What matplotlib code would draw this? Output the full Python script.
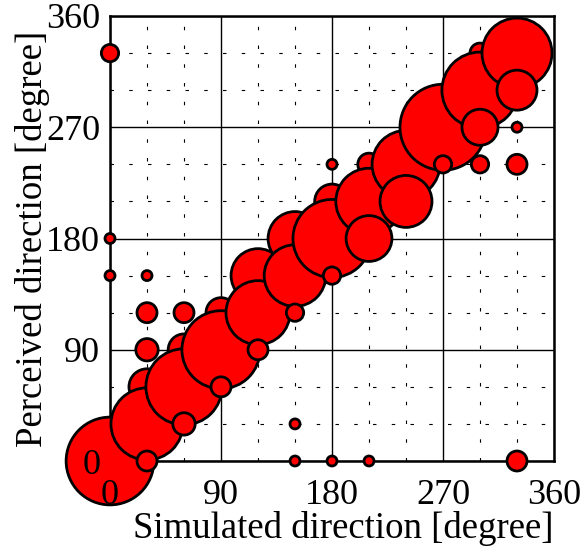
import matplotlib
matplotlib.use('Agg')
import matplotlib.pyplot as plt
import numpy as np

# Datos: dirección simulada, dirección percibida y número de respuestas
simulado = [0, 0, 0, 0,
            30, 30, 30, 30, 30, 30,
            60, 60, 60, 60,
            90, 90, 90,
            120, 120, 120,
            150, 150, 150, 150, 150,
            180, 180, 180, 180, 180,
            210, 210, 210, 210,
            240, 240,
            270, 270,
            300, 300, 300, 300,
            330, 330, 330, 330, 330]
percibido = [330, 180, 150, 0,
             150, 120, 90, 60, 30, 0,
             120, 90, 60, 30,
             120, 90, 60,
             150, 120, 90,
             180, 150, 120, 30, 0,
             240, 210, 180, 150, 0,
             240, 210, 180, 0,
             240, 210,
             270, 240,
             330, 300, 270, 240,
             330, 300, 270, 240, 0]
respuestas = [3, 1, 1, 77,
              1, 4, 5, 13, 52, 4,
              4, 10, 58, 5,
              9, 61, 4,
              29, 41, 4,
              29, 38, 3, 1, 1,
              1, 12, 61, 3, 1,
              5, 44, 21, 1,
              46, 27,
              74, 3,
              4, 58, 13, 3,
              49, 16, 1, 4, 4]

ticks_mayores = [0, 90, 180, 270, 360]
ticks_menores = [30, 60, 120, 150, 210, 240, 300, 330]

plt.rcParams['font.family'] = ['Liberation Serif', 'DejaVu Serif']
plt.rcParams['lines.scale_dashes'] = False

fig = plt.figure(figsize=(5.85, 5.52), dpi=100)
ax = fig.add_axes([110/585, 1 - 461/552, 444/585, 445/552])

# Rejilla dibujada a mano para que quede debajo de las burbujas
for t in ticks_menores:
    ax.axvline(t, color='black', lw=0.8, linestyle=(0, (2.5, 11)), zorder=1)
    ax.axhline(t, color='black', lw=0.8, linestyle=(0, (2.5, 11)), zorder=1)
for t in ticks_mayores:
    ax.axvline(t, color='black', lw=1.0, zorder=1.1)
    ax.axhline(t, color='black', lw=1.0, zorder=1.1)

# Escala de tamaño: área proporcional al número de respuestas
escala = 51.84
tam = np.array(respuestas) * escala
ax.scatter(simulado, percibido, s=tam, c='#ff0000', edgecolors='black',
           linewidths=2.0, clip_on=False, zorder=2.3)

ax.set_xlim(0, 360)
ax.set_ylim(0, 360)
ax.set_xticks(ticks_mayores)
ax.set_yticks(ticks_mayores)
ax.set_axisbelow(False)
ax.tick_params(axis='x', length=0, pad=13, labelsize=26)
ax.tick_params(axis='y', length=0, pad=7, labelsize=26)

for lado in ['left', 'bottom', 'top', 'right']:
    ax.spines[lado].set_linewidth(1.8)
    ax.spines[lado].set_color('black')
    ax.spines[lado].set_zorder(2.1)

ax.set_xlabel('Simulated direction [degree]', fontsize=26.5)
ax.set_ylabel('Perceived direction [degree]', fontsize=26.5)
ax.xaxis.set_label_coords(0.525, -0.113)
ax.yaxis.set_label_coords(-0.135, 0.5)

fig.savefig('out.png', dpi=100)
